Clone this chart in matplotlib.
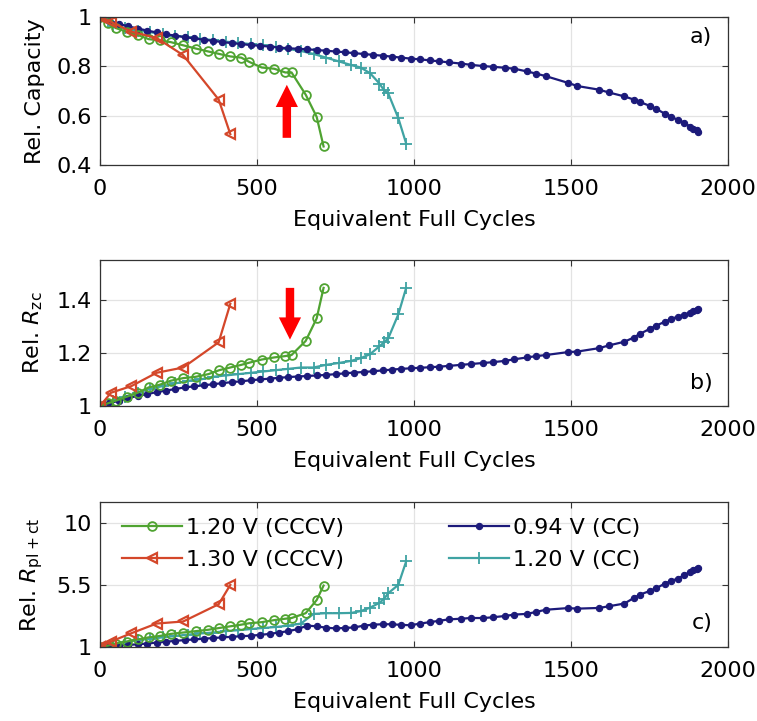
import matplotlib
matplotlib.use("Agg")
import matplotlib.pyplot as plt
from matplotlib.ticker import FixedLocator

plt.rcParams['font.family'] = ['DejaVu Sans']
plt.rcParams['mathtext.fontset'] = 'custom'
plt.rcParams['mathtext.rm'] = 'DejaVu Sans'
plt.rcParams['mathtext.it'] = 'DejaVu Sans:italic'

# ---------------- data ----------------
labels = ['1.20 V (CCCV)', '1.30 V (CCCV)', '0.94 V (CC)', '1.20 V (CC)']

# 1.30 V (CCCV)
red_efc = [0, 35, 100, 180, 265, 378, 415]
red_cap = [1.0, 0.98, 0.94, 0.915, 0.845, 0.665, 0.525]
red_rzc = [1.0, 1.05, 1.075, 1.125, 1.145, 1.24, 1.385]
red_rpl = [1.0, 1.4, 2.0, 2.7, 2.85, 4.1, 5.5]

# 1.20 V (CCCV)
green_efc = [0, 25, 50, 85, 120, 155, 190, 225, 265, 305, 345, 380, 415, 450,
             475, 515, 555, 590, 610, 655, 690, 712]
green_cap = [1.0, 0.975, 0.955, 0.94, 0.927, 0.91, 0.905, 0.898, 0.885, 0.872,
             0.86, 0.85, 0.84, 0.835, 0.818, 0.795, 0.79, 0.775, 0.775, 0.685,
             0.595, 0.475]
green_rzc = [1.0, 1.01, 1.02, 1.035, 1.05, 1.07, 1.08, 1.095, 1.105, 1.11, 1.12,
             1.135, 1.145, 1.155, 1.163, 1.175, 1.183, 1.188, 1.192, 1.245,
             1.33, 1.445]
green_rpl = [1.0, 1.1, 1.25, 1.4, 1.55, 1.7, 1.8, 1.95, 2.05, 2.15, 2.25, 2.38,
             2.5, 2.62, 2.72, 2.8, 2.95, 3.05, 3.1, 3.45, 4.4, 5.45]

# 1.20 V (CC)
teal_efc = [0, 40, 80, 120, 160, 200, 240, 280, 320, 360, 400, 440, 480, 520,
            560, 600, 640, 680, 720, 760, 800, 830, 860, 890, 905, 918, 950, 975]
teal_cap = [1.0, 0.965, 0.955, 0.945, 0.938, 0.93, 0.924, 0.918, 0.912, 0.906,
            0.9, 0.895, 0.89, 0.885, 0.878, 0.87, 0.862, 0.85, 0.835, 0.82,
            0.805, 0.795, 0.772, 0.73, 0.702, 0.69, 0.59, 0.487]
teal_rzc = [1.0, 1.02, 1.035, 1.05, 1.065, 1.075, 1.085, 1.095, 1.1, 1.11,
            1.115, 1.12, 1.125, 1.13, 1.135, 1.14, 1.145, 1.145, 1.155, 1.162,
            1.17, 1.18, 1.195, 1.225, 1.24, 1.255, 1.345, 1.445]
teal_rpl = [1.0, 1.2, 1.35, 1.5, 1.6, 1.7, 1.8, 1.9, 1.98, 2.05, 2.15, 2.22,
            2.3, 2.38, 2.45, 2.55, 2.7, 3.4, 3.45, 3.45, 3.47, 3.6, 3.85, 4.2,
            4.5, 4.9, 5.5, 7.2]

# 0.94 V (CC)
navy_efc = [0, 30, 60, 90, 120, 150, 180, 210, 240, 270, 300, 330, 360, 390,
            420, 450, 480, 510, 540, 570, 600, 630, 660, 690, 720, 750, 780,
            810, 840, 870, 900, 930, 960, 990, 1020, 1050, 1080, 1110, 1150,
            1180, 1220, 1250, 1290, 1320, 1360, 1390, 1420, 1490, 1520, 1590,
            1620, 1670, 1700, 1720, 1750, 1770, 1800, 1820, 1840, 1860, 1880,
            1890, 1900, 1905]
navy_cap = [1.0, 0.985, 0.972, 0.962, 0.953, 0.945, 0.937, 0.93, 0.924, 0.918,
            0.913, 0.908, 0.903, 0.898, 0.894, 0.89, 0.886, 0.883, 0.88, 0.876,
            0.873, 0.871, 0.869, 0.866, 0.863, 0.86, 0.857, 0.853, 0.85, 0.846,
            0.843, 0.839, 0.835, 0.831, 0.828, 0.824, 0.82, 0.816, 0.811,
            0.806, 0.801, 0.798, 0.794, 0.79, 0.779, 0.77, 0.76, 0.733, 0.72,
            0.705, 0.694, 0.678, 0.665, 0.655, 0.64, 0.628, 0.607, 0.596,
            0.582, 0.572, 0.555, 0.547, 0.54, 0.533]
navy_rzc = [1.0, 1.01, 1.02, 1.03, 1.038, 1.045, 1.052, 1.058, 1.064, 1.07,
            1.074, 1.078, 1.082, 1.086, 1.09, 1.093, 1.097, 1.1, 1.103, 1.106,
            1.109, 1.111, 1.113, 1.115, 1.117, 1.12, 1.123, 1.126, 1.128,
            1.131, 1.134, 1.137, 1.14, 1.142, 1.144, 1.146, 1.148, 1.151,
            1.155, 1.158, 1.162, 1.165, 1.17, 1.176, 1.183, 1.188, 1.192,
            1.203, 1.205, 1.218, 1.228, 1.242, 1.258, 1.272, 1.29, 1.302,
            1.318, 1.328, 1.337, 1.344, 1.352, 1.356, 1.362, 1.366]
navy_rpl = [1.0, 1.05, 1.1, 1.15, 1.2, 1.25, 1.32, 1.38, 1.45, 1.5, 1.55, 1.6,
            1.65, 1.7, 1.74, 1.78, 1.82, 1.88, 1.95, 2.05, 2.15, 2.3, 2.55,
            2.5, 2.4, 2.35, 2.38, 2.42, 2.55, 2.62, 2.65, 2.65, 2.6, 2.58, 2.7,
            2.8, 2.9, 3.0, 3.05, 3.1, 3.1, 3.15, 3.25, 3.35, 3.4, 3.55, 3.7,
            3.82, 3.78, 3.83, 3.95, 4.15, 4.55, 4.8, 5.05, 5.25, 5.6, 5.8,
            5.95, 6.2, 6.45, 6.55, 6.65, 6.75]

x_ticks = [0, 500, 1000, 1500, 2000]
x_ticklabels = ['0', '500', '1000', '1500', '2000']
ya_ticks, ya_labels = [0.4, 0.6, 0.8, 1.0], ['0.4', '0.6', '0.8', '1']
yb_ticks, yb_labels = [1.0, 1.2, 1.4], ['1', '1.2', '1.4']
yc_ticks, yc_labels = [1, 5.5, 10], ['1', '5.5', '10']

# ---------------- styles ----------------
C_GREEN = '#4fa331'
C_RED = '#d4472a'
C_NAVY = '#1c1a7a'
C_TEAL = '#3fa3a3'
FS = 16

fig = plt.figure(figsize=(7.57, 7.21), dpi=100)
positions = [[0.1321, 0.7712, 0.8296, 0.2053],
             [0.1321, 0.4369, 0.8296, 0.2025],
             [0.1321, 0.1026, 0.8296, 0.2011]]
axes = [fig.add_axes(p) for p in positions]

series = [
    (teal_efc, [teal_cap, teal_rzc, teal_rpl], C_TEAL,
     dict(marker='+', markersize=8, markeredgewidth=1.3), labels[3]),
    (navy_efc, [navy_cap, navy_rzc, navy_rpl], C_NAVY,
     dict(marker='o', markersize=4.5, markeredgewidth=0.8), labels[2]),
    (green_efc, [green_cap, green_rzc, green_rpl], C_GREEN,
     dict(marker='o', markersize=6.3, markerfacecolor='none', markeredgewidth=1.3), labels[0]),
    (red_efc, [red_cap, red_rzc, red_rpl], C_RED,
     dict(marker='<', markersize=7, markerfacecolor='none', markeredgewidth=1.6), labels[1]),
]

handles = {}
for i, ax in enumerate(axes):
    for efc, ys, col, mk, lab in series:
        h, = ax.plot(efc, ys[i], color=col, lw=1.6, label=lab, **mk)
        if i == 2:
            handles[lab] = h
    ax.set_xlim(0, 2000)
    ax.xaxis.set_major_locator(FixedLocator(x_ticks))
    ax.set_xticklabels(x_ticklabels)
    ax.set_xlabel('Equivalent Full Cycles', fontsize=FS, labelpad=8)
    ax.grid(True, color='#e3e3e3', lw=0.9)
    ax.set_axisbelow(True)
    ax.tick_params(direction='in', top=True, right=True, labelsize=FS,
                   length=4, width=0.8, color='#333333')
    ax.tick_params(axis='x', pad=10)
    ax.tick_params(axis='y', pad=6)
    for s in ax.spines.values():
        s.set_color('#333333')
        s.set_linewidth(0.9)

ax_a, ax_b, ax_c = axes
ax_a.set_ylim(0.4, 1.0)
ax_a.yaxis.set_major_locator(FixedLocator(ya_ticks))
ax_a.set_yticklabels(ya_labels)
ax_a.set_ylabel('Rel. Capacity', fontsize=FS)

ax_b.set_ylim(1.0, 1.55)
ax_b.yaxis.set_major_locator(FixedLocator(yb_ticks))
ax_b.set_yticklabels(yb_labels)
ax_b.set_ylabel(r'Rel. $R_{\mathrm{zc}}$', fontsize=FS)

ax_c.set_ylim(1.0, 11.5)
ax_c.yaxis.set_major_locator(FixedLocator(yc_ticks))
ax_c.set_yticklabels(yc_labels)
ax_c.set_ylabel(r'Rel. $R_{\mathrm{pl+ct}}$', fontsize=FS)

for ax in axes:
    ax.yaxis.set_label_coords(-0.087, 0.5)

# panel labels
ax_a.text(0.975, 0.865, 'a)', transform=ax_a.transAxes, ha='right', va='center', fontsize=FS)
ax_b.text(0.975, 0.158, 'b)', transform=ax_b.transAxes, ha='right', va='center', fontsize=FS)
ax_c.text(0.975, 0.166, 'c)', transform=ax_c.transAxes, ha='right', va='center', fontsize=FS)

# red arrows
arrow_style = 'simple,head_length=1.0,head_width=1.0,tail_width=0.38'
ax_a.annotate('', xy=(595, 0.725), xytext=(595, 0.51),
              arrowprops=dict(arrowstyle=arrow_style, color='#ff0000',
                              mutation_scale=16, shrinkA=0, shrinkB=0, lw=0))
ax_b.annotate('', xy=(605, 1.25), xytext=(605, 1.445),
              arrowprops=dict(arrowstyle=arrow_style, color='#ff0000',
                              mutation_scale=16, shrinkA=0, shrinkB=0, lw=0))

# legend
order = [labels[0], labels[1], labels[2], labels[3]]
ax_c.legend([handles[l] for l in order], order, ncol=2, frameon=False,
            loc='upper left', bbox_to_anchor=(0.035, 0.89), borderpad=0,
            borderaxespad=0, handlelength=2.7, handletextpad=0.2,
            columnspacing=4.7, labelspacing=0.55, fontsize=FS)

fig.savefig('out.png', dpi=100)
